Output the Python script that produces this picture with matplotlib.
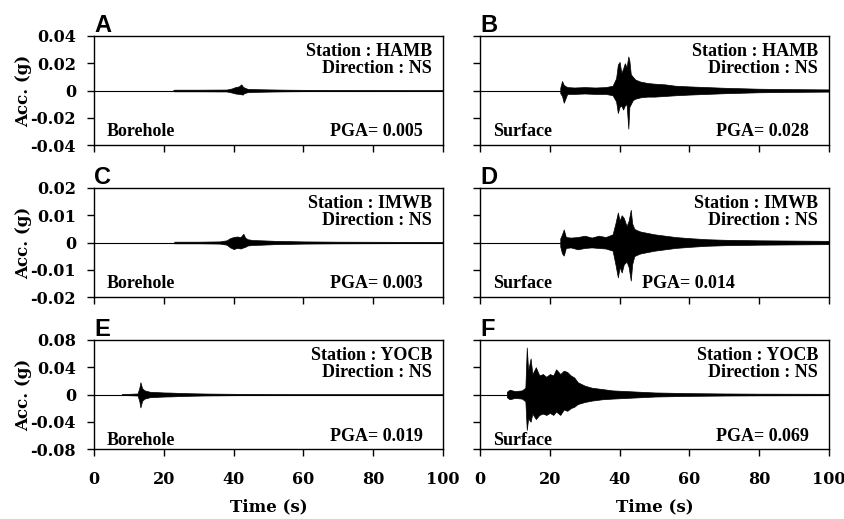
import numpy as np
import matplotlib
matplotlib.use("Agg")
import matplotlib.pyplot as plt

# envelope of each record (time in s, upper / lower acceleration in g)
hamb_bh_t = [22.6, 23, 30, 38, 39.5, 40.5, 41.5, 42.2, 42.6, 43, 44, 46, 50, 55, 60, 70, 100]
hamb_bh_up = [0, 0.0006, 0.0006, 0.0007, 0.0015, 0.0025, 0.003, 0.0045, 0.003, 0.0022, 0.0012, 0.001, 0.0008, 0.0006, 0.0005, 0.0004, 0.0003]
hamb_bh_lo = [0, -0.0006, -0.0006, -0.0007, -0.0015, -0.0022, -0.0025, -0.0028, -0.003, -0.002, -0.0012, -0.001, -0.0008, -0.0006, -0.0005, -0.0004, -0.0003]

hamb_sf_t = [23, 23.5, 24, 25, 27, 30, 33, 36, 38, 39, 39.5, 40, 40.5, 41, 41.5, 42, 42.5, 42.8, 43.2, 43.8, 44.5,
             46, 48, 50, 53, 56, 60, 65, 70, 80, 90, 100]
hamb_sf_up = [0.002, 0.007, 0.004, 0.0025, 0.0022, 0.0025, 0.0022, 0.0025, 0.0035, 0.009, 0.019, 0.021, 0.013, 0.016,
              0.02, 0.017, 0.025, 0.022, 0.012, 0.010, 0.008, 0.0065, 0.0055, 0.005, 0.0045, 0.0035, 0.003, 0.0025,
              0.002, 0.0013, 0.001, 0.0008]
hamb_sf_lo = [-0.002, -0.004, -0.009, -0.0025, -0.0025, -0.0022, -0.0025, -0.0025, -0.0035, -0.008, -0.0165, -0.012,
              -0.011, -0.014, -0.011, -0.010, -0.028, -0.012, -0.010, -0.007, -0.006, -0.005, -0.0045, -0.0045, -0.004,
              -0.0035, -0.003, -0.0025, -0.002, -0.0013, -0.001, -0.0008]

imwb_bh_t = [23, 30, 36, 38, 39, 40, 41, 42, 42.8, 43.3, 44, 45.5, 48, 52, 56, 60, 70, 100]
imwb_bh_up = [0.0003, 0.0003, 0.0004, 0.0008, 0.0016, 0.0020, 0.0022, 0.0020, 0.0032, 0.0018, 0.0012, 0.0009, 0.0008,
              0.0006, 0.0005, 0.0004, 0.0003, 0.0002]
imwb_bh_lo = [-0.0003, -0.0003, -0.0004, -0.0008, -0.0018, -0.0024, -0.0020, -0.0022, -0.0018, -0.0016, -0.0011,
              -0.0009, -0.0008, -0.0006, -0.0005, -0.0004, -0.0003, -0.0002]

imwb_sf_t = [23, 23.5, 24, 24.6, 26, 28, 30, 32, 34, 36, 38, 38.8, 39.5, 40, 40.6, 41.2, 42, 42.6, 43.2, 43.6, 44.2,
             45, 46, 48, 50, 53, 56, 60, 65, 70, 80, 90, 100]
imwb_sf_up = [0.0015, 0.003, 0.0048, 0.002, 0.0018, 0.002, 0.0025, 0.0018, 0.0025, 0.002, 0.003, 0.007, 0.011, 0.008,
              0.010, 0.009, 0.006, 0.008, 0.012, 0.007, 0.005, 0.0045, 0.004, 0.0035, 0.003, 0.0025, 0.002, 0.0016,
              0.0012, 0.001, 0.0008, 0.0007, 0.0006]
imwb_sf_lo = [-0.0015, -0.004, -0.0048, -0.002, -0.0018, -0.0025, -0.002, -0.0018, -0.002, -0.0022, -0.003, -0.008,
              -0.0128, -0.009, -0.011, -0.008, -0.007, -0.009, -0.014, -0.008, -0.005, -0.0045, -0.004, -0.0035,
              -0.003, -0.0025, -0.002, -0.0016, -0.0012, -0.001, -0.0008, -0.0007, -0.0006]

yocb_bh_t = [8, 10, 12.5, 13, 13.3, 13.8, 14.5, 16, 18, 20, 22, 25, 28, 32, 40, 50, 60, 80, 100]
yocb_bh_up = [0.0008, 0.001, 0.0015, 0.010, 0.018, 0.009, 0.006, 0.004, 0.0035, 0.003, 0.0028, 0.0022, 0.0018, 0.0014,
              0.001, 0.0007, 0.0005, 0.0004, 0.0003]
yocb_bh_lo = [-0.0008, -0.001, -0.0015, -0.010, -0.019, -0.009, -0.006, -0.004, -0.0035, -0.003, -0.0028, -0.0022,
              -0.0018, -0.0014, -0.001, -0.0007, -0.0005, -0.0004, -0.0003]

yocb_sf_t = [7.7, 8.5, 10, 12, 13, 13.4, 13.8, 14.5, 15, 16, 17, 18, 19, 20, 21, 21.8, 23, 24, 25, 26, 27, 28, 30, 32,
             35, 38, 42, 46, 50, 55, 60, 70, 80, 100]
yocb_sf_up = [0.004, 0.007, 0.005, 0.006, 0.01, 0.069, 0.035, 0.053, 0.03, 0.04, 0.028, 0.03, 0.026, 0.03, 0.028, 0.037,
              0.03, 0.035, 0.033, 0.028, 0.025, 0.018, 0.013, 0.01, 0.008, 0.006, 0.005, 0.004, 0.003, 0.0025, 0.002,
              0.0015, 0.0012, 0.001]
yocb_sf_lo = [-0.004, -0.007, -0.005, -0.006, -0.01, -0.052, -0.035, -0.04, -0.028, -0.036, -0.03, -0.028, -0.03,
              -0.027, -0.03, -0.025, -0.03, -0.022, -0.024, -0.02, -0.018, -0.014, -0.011, -0.009, -0.007, -0.006,
              -0.005, -0.004, -0.003, -0.0025, -0.002, -0.0015, -0.0012, -0.001]

panel_letters = ["A", "B", "C", "D", "E", "F"]
stations = ["HAMB", "HAMB", "IMWB", "IMWB", "YOCB", "YOCB"]
sensors = ["Borehole", "Surface", "Borehole", "Surface", "Borehole", "Surface"]
pga = ["0.005", "0.028", "0.003", "0.014", "0.019", "0.069"]
y_limits = [0.04, 0.04, 0.02, 0.02, 0.08, 0.08]
y_ticks = [[-0.04, -0.02, 0, 0.02, 0.04], [-0.04, -0.02, 0, 0.02, 0.04],
           [-0.02, -0.01, 0, 0.01, 0.02], [-0.02, -0.01, 0, 0.01, 0.02],
           [-0.08, -0.04, 0, 0.04, 0.08], [-0.08, -0.04, 0, 0.04, 0.08]]
x_ticks = [0, 20, 40, 60, 80, 100]
records = [(hamb_bh_t, hamb_bh_up, hamb_bh_lo), (hamb_sf_t, hamb_sf_up, hamb_sf_lo),
           (imwb_bh_t, imwb_bh_up, imwb_bh_lo), (imwb_sf_t, imwb_sf_up, imwb_sf_lo),
           (yocb_bh_t, yocb_bh_up, yocb_bh_lo), (yocb_sf_t, yocb_sf_up, yocb_sf_lo)]

tick_font = "DejaVu Serif"
note_font = "Liberation Serif"
plt.rcParams["font.family"] = tick_font
plt.rcParams["font.weight"] = "bold"

fig = plt.figure(figsize=(8.45, 5.19), dpi=100)
W, H = 845.0, 519.0
col_left = [94, 480]
row_top = [36, 188, 340]
ax_w, ax_h = 349, 109

for k in range(6):
    r, c = divmod(k, 2)
    ax = fig.add_axes([col_left[c] / W, 1 - (row_top[r] + ax_h) / H, ax_w / W, ax_h / H])
    t, up, lo = records[k]
    ax.axhline(0, color="black", lw=0.8, zorder=1)
    ax.fill_between(t, lo, up, color="black", lw=0.5, zorder=2)
    ax.set_xlim(0, 100)
    ax.set_ylim(-y_limits[k], y_limits[k])
    ax.set_xticks(x_ticks)
    ax.set_yticks(y_ticks[k])
    for s in ax.spines.values():
        s.set_linewidth(1.0)
    ax.tick_params(direction="out", length=5, width=1.0, labelsize=11.5)
    ax.tick_params(axis="y", pad=8)
    ax.tick_params(axis="x", pad=11)
    if c == 0:
        ax.set_yticklabels(["%g" % v if v != 0 else "0" for v in y_ticks[k]])
        ax.set_ylabel("Acc. (g)", fontsize=12, fontweight="bold")
        ax.yaxis.set_label_coords(-0.178, 0.5)
    else:
        ax.set_yticklabels([])
    if r < 2:
        ax.set_xticklabels([])
    else:
        ax.set_xlabel("Time (s)", fontsize=12, fontweight="bold")
        ax.xaxis.set_label_coords(0.5, -0.455)

    ax.text(0.0, 1.035, panel_letters[k], transform=ax.transAxes, family="Liberation Sans",
            fontsize=17, fontweight="bold", ha="left", va="baseline")
    ax.text(0.9685, 0.935, "Station : %s\nDirection : NS" % stations[k], transform=ax.transAxes,
            family=note_font, ha="right", va="top", fontsize=13, fontweight="bold", linespacing=1.0,
            multialignment="right")
    base_y = 0.085 if r < 2 else 0.04
    ax.text(0.037, base_y, sensors[k], transform=ax.transAxes, family=note_font, ha="left", va="baseline",
            fontsize=13, fontweight="bold")
    pga_x = 0.731 if k == 3 else 0.943
    pga_y = 0.075 if r == 2 else base_y
    ax.text(pga_x, pga_y, "PGA= %s" % pga[k], transform=ax.transAxes, family=note_font, ha="right",
            va="baseline", fontsize=13, fontweight="bold")

fig.savefig("out.png", dpi=100)
